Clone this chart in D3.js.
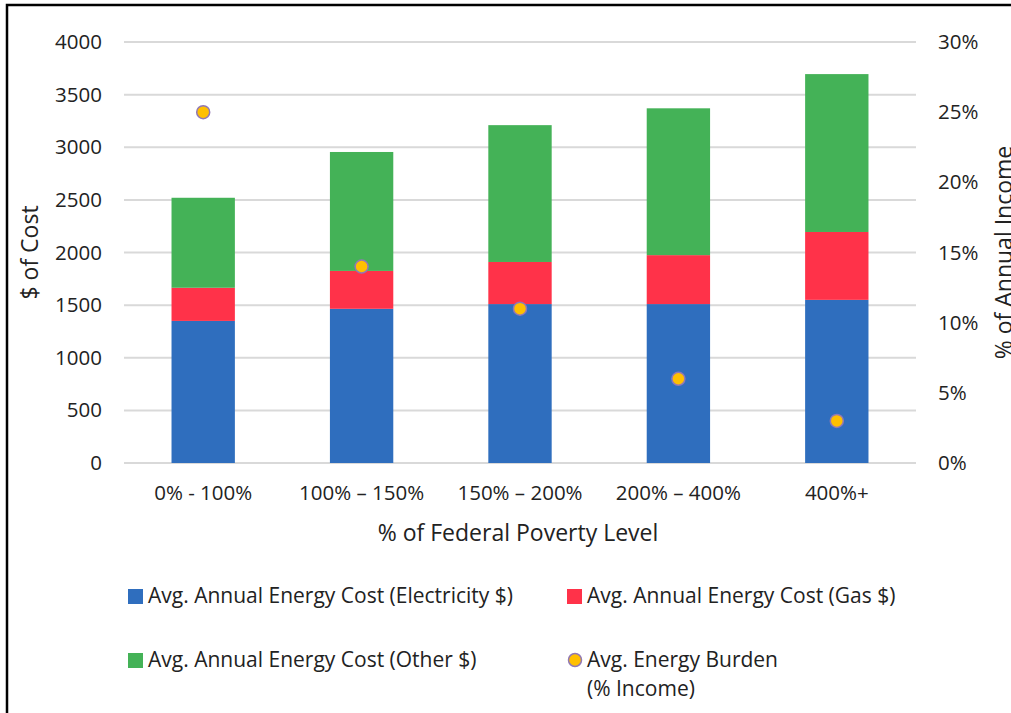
<!DOCTYPE html>
<html>
<head>
<meta charset="utf-8">
<script src="https://cdn.jsdelivr.net/npm/d3@7"></script>
<style>
  body { margin: 0; background: #fff; }
  svg text { font-family: "Open Sans", sans-serif; fill: #222; }
</style>
</head>
<body>
<div id="chart"></div>
<script>
// data
var categories = ["0% - 100%", "100% \u2013 150%", "150% \u2013 200%", "200% \u2013 400%", "400%+"];
var electricity = [1350, 1465, 1510, 1510, 1550];
var gas = [315, 360, 400, 465, 645];
var other = [855, 1130, 1300, 1395, 1500];
var burden = [25, 14, 11, 6, 3];
var costTicks = [0, 500, 1000, 1500, 2000, 2500, 3000, 3500, 4000];
var pctTicks = [0, 5, 10, 15, 20, 25, 30];

var seriesNames = ["Avg. Annual Energy Cost (Electricity $)", "Avg. Annual Energy Cost (Gas $)",
                   "Avg. Annual Energy Cost (Other $)"];
var colors = ["#2F6EBE", "#FF3249", "#44B257"];

var W = 1011, H = 713;
var margin = {top: 42, right: 95, bottom: 250, left: 124},
    width = W - margin.left - margin.right,
    height = H - margin.top - margin.bottom;
var fontSize = "20.5px";
var legendFont = "21px";

var svg = d3.select("#chart").append("svg")
    .attr("width", W).attr("height", H);

// outer frame
svg.append("rect")
    .attr("x", 7).attr("y", 5)
    .attr("width", W + 20).attr("height", H + 20)
    .attr("fill", "none").attr("stroke", "#000").attr("stroke-width", 2.5);

var g = svg.append("g")
    .attr("transform", "translate(" + margin.left + "," + margin.top + ")");

var x = d3.scaleBand().domain(categories).range([0, width]).paddingInner(0.6).paddingOuter(0.3);
var y = d3.scaleLinear().domain([0, 4000]).range([height, 0]);
var y2 = d3.scaleLinear().domain([0, 30]).range([height, 0]);

// gridlines
g.append("g").selectAll("line").data(costTicks).enter().append("line")
    .attr("x1", 0).attr("x2", width)
    .attr("y1", function(d) { return y(d); }).attr("y2", function(d) { return y(d); })
    .attr("stroke", "#d9d9d9").attr("stroke-width", 2);

// stack the series
var rows = categories.map(function(c, i) {
  return {cat: c, e: electricity[i], g: gas[i], o: other[i]};
});
var stack = d3.stack().keys(["e", "g", "o"])(rows);

g.append("g").selectAll("g").data(stack).enter().append("g")
    .attr("fill", function(d, i) { return colors[i]; })
  .selectAll("rect").data(function(d) { return d; }).enter().append("rect")
    .attr("x", function(d) { return x(d.data.cat); })
    .attr("width", x.bandwidth())
    .attr("y", function(d) { return y(d[1]); })
    .attr("height", function(d) { return y(d[0]) - y(d[1]); });

// burden dots
g.append("g").selectAll("circle").data(burden).enter().append("circle")
    .attr("cx", function(d, i) { return x(categories[i]) + x.bandwidth() / 2; })
    .attr("cy", function(d) { return y2(d); })
    .attr("r", 6.5)
    .attr("fill", "#FFC000").attr("stroke", "#9178B5").attr("stroke-width", 1.5);

function styleTicks(sel) {
  sel.select(".domain").remove();
  sel.selectAll("text").style("font-size", fontSize)
     .style("font-family", "'Open Sans', sans-serif").attr("fill", "#222");
}

// left axis
g.append("g")
    .call(d3.axisLeft(y).tickValues(costTicks).tickSize(0).tickPadding(22).tickFormat(d3.format("d")))
    .call(styleTicks);

// right axis
g.append("g").attr("transform", "translate(" + width + ",0)")
    .call(d3.axisRight(y2).tickValues(pctTicks).tickSize(0).tickPadding(22)
          .tickFormat(function(d) { return d + "%"; }))
    .call(styleTicks);

// x axis
g.append("g").attr("transform", "translate(0," + height + ")")
    .call(d3.axisBottom(x).tickSize(0).tickPadding(22))
    .call(styleTicks);

// axis titles
svg.append("text")
    .attr("transform", "translate(38," + (margin.top + height / 2) + ") rotate(-90)")
    .attr("text-anchor", "middle").style("font-size", "23px")
    .text("$ of Cost");
svg.append("text")
    .attr("transform", "translate(1012," + (margin.top + height / 2) + ") rotate(-90)")
    .attr("text-anchor", "middle").style("font-size", "23px")
    .text("% of Annual Income");
svg.append("text")
    .attr("x", margin.left + width / 2 - 2).attr("y", 541)
    .attr("text-anchor", "middle").style("font-size", "23px")
    .text("% of Federal Poverty Level");

// legend
var legendPos = [[128, 596], [567, 596], [128, 660]];
seriesNames.forEach(function(name, i) {
  svg.append("rect")
      .attr("x", legendPos[i][0]).attr("y", legendPos[i][1] - 7)
      .attr("width", 15).attr("height", 15).attr("fill", colors[i]);
  svg.append("text")
      .attr("x", legendPos[i][0] + 20).attr("y", legendPos[i][1] + 7)
      .style("font-size", legendFont).text(name);
});
svg.append("circle")
    .attr("cx", 575).attr("cy", 660).attr("r", 6.5)
    .attr("fill", "#FFC000").attr("stroke", "#9178B5").attr("stroke-width", 1.5);
svg.append("text").attr("x", 587).attr("y", 667).style("font-size", legendFont).text("Avg. Energy Burden");
svg.append("text").attr("x", 587).attr("y", 696).style("font-size", legendFont).text("(% Income)");
</script>
</body>
</html>
